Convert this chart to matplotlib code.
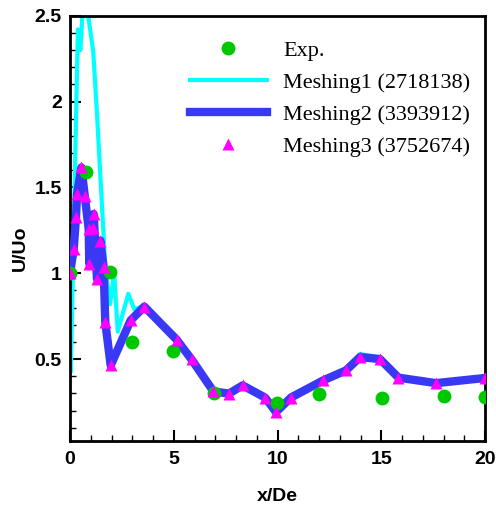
import matplotlib
matplotlib.use("Agg")
import matplotlib.pyplot as plt
from matplotlib.ticker import MultipleLocator, FixedLocator

# Experimental data
exp_x = [0.0, 0.77, 1.95, 2.97, 4.98, 6.94, 9.99, 12.0, 15.02, 18.02, 20.0]
exp_y = [1.0, 1.59, 1.01, 0.60, 0.545, 0.30, 0.246, 0.295, 0.276, 0.283, 0.281]

# Meshing1 (2718138)
m1_x = [0.04, 0.38, 0.50, 0.62, 0.82, 1.12, 1.30, 1.70, 1.93, 2.13, 2.30, 2.81, 3.10,
        3.58, 5.14, 5.86, 6.91, 7.66, 8.32, 9.40, 9.85, 10.65, 12.2, 13.3, 13.98,
        14.94, 15.83, 17.64, 20.0]
m1_y = [0.43, 2.42, 2.30, 2.55, 2.55, 2.29, 1.93, 1.04, 0.82, 1.00, 0.66, 0.88, 0.79,
        0.81, 0.63, 0.50, 0.31, 0.31, 0.345, 0.27, 0.18, 0.29, 0.385, 0.445, 0.53,
        0.51, 0.395, 0.355, 0.39]

# Meshing2 (3393912) and Meshing3 (3752674)
m2_x = [0.0, 0.18, 0.29, 0.34, 0.55, 0.71, 0.90, 0.93, 1.09, 1.14, 1.30, 1.46, 1.62,
        1.70, 1.96, 2.92, 3.58, 5.14, 5.86, 6.91, 7.66, 8.32, 9.40, 9.93, 10.65,
        12.2, 13.3, 13.98, 14.94, 15.83, 17.64, 20.0]
m2_y = [1.0, 1.142, 1.326, 1.462, 1.616, 1.452, 1.258, 1.055, 1.262, 1.345, 0.967,
        1.19, 1.035, 0.715, 0.463, 0.725, 0.806, 0.613, 0.498, 0.312, 0.299, 0.347,
        0.276, 0.192, 0.276, 0.376, 0.434, 0.512, 0.50, 0.392, 0.36, 0.39]
m3_x = list(m2_x)
m3_y = list(m2_y)

x_ticks = [0, 5, 10, 15, 20]
y_ticks = [0.5, 1.0, 1.5, 2.0, 2.5]
y_tick_labels = ["0.5", "1", "1.5", "2", "2.5"]

fig = plt.figure(figsize=(4.96, 5.07), dpi=100)
ax = fig.add_axes([70/496, 1-441/507, 415/496, (441-15.7)/507])

ax.plot(m1_x, m1_y, color="#00FFFF", lw=3, label="Meshing1 (2718138)", zorder=2,
        solid_joinstyle="round")
ax.plot(m2_x, m2_y, color="#3939F5", lw=6, label="Meshing2 (3393912)", zorder=3,
        solid_joinstyle="round")
ax.plot(exp_x, exp_y, "o", color="#00C800", ms=10, mec="none", label="Exp.", zorder=4)
ax.plot(m3_x, m3_y, "^", color="#FF00FF", ms=9, mec="none", lw=0,
        label="Meshing3 (3752674)", zorder=5)

ax.set_xlim(0, 20)
ax.set_ylim(0.023, 2.5)
ax.xaxis.set_major_locator(FixedLocator(x_ticks))
ax.xaxis.set_minor_locator(MultipleLocator(1))
ax.yaxis.set_major_locator(FixedLocator(y_ticks))
ax.set_yticklabels(y_tick_labels)
ax.yaxis.set_minor_locator(MultipleLocator(0.1))

ax.tick_params(which="major", direction="in", length=8, width=1.5,
               labelsize=14, pad=6)
ax.tick_params(which="minor", direction="in", length=4, width=1)
ax.tick_params(axis="x", which="major", pad=7)
for lab in ax.get_xticklabels() + ax.get_yticklabels():
    lab.set_fontweight("bold")
    lab.set_family("Liberation Sans")
for sp in ax.spines.values():
    sp.set_linewidth(2)

ax.set_xlabel("x/De", fontsize=14, fontweight="bold", family="Liberation Sans")
ax.set_ylabel("U/Uo", fontsize=14, fontweight="bold", family="Liberation Sans")
ax.xaxis.set_label_coords(0.5, -0.11)
ax.yaxis.set_label_coords(-0.10, 0.454)

handles, labels = ax.get_legend_handles_labels()
order = [2, 0, 1, 3]
leg = ax.legend([handles[i] for i in order], [labels[i] for i in order],
                loc="upper left", bbox_to_anchor=(0.289, 0.942), frameon=False,
                prop={"family": "Liberation Serif", "size": 16},
                handlelength=3.47, handletextpad=0.72, labelspacing=0.52,
                borderpad=0, borderaxespad=0)

fig.savefig("out.png", dpi=100)
